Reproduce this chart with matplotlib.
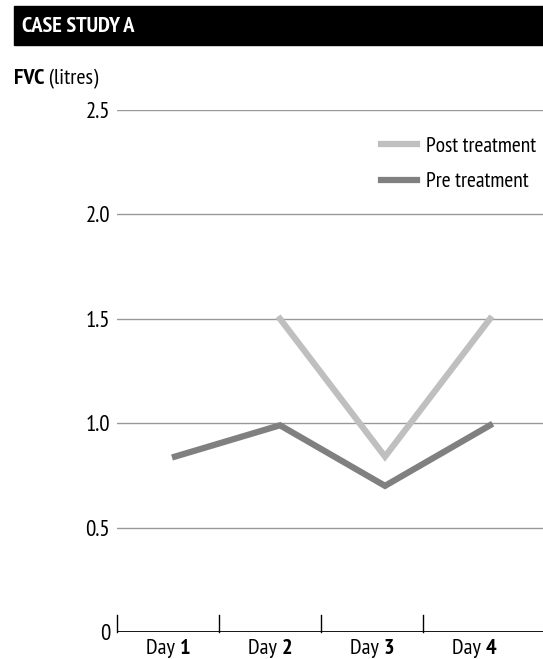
import numpy as np
import matplotlib.pyplot as plt
from matplotlib.patches import Rectangle

plt.rcParams['font.family'] = ['PT Sans Narrow', 'DejaVu Sans']

days = ['1', '2', '3', '4']
pre = [0.84, 0.99, 0.70, 0.99]
post = [np.nan, 1.50, 0.84, 1.50]
yticks = [0, 0.5, 1.0, 1.5, 2.0, 2.5]
ytick_labels = ['0', '0.5', '1.0', '1.5', '2.0', '2.5']

W, H = 543, 659
fig = plt.figure(figsize=(W / 100, H / 100), dpi=100)

# header bar
fig.patches.append(Rectangle((14 / W, 1 - 45 / H), 1 - 14 / W, 39 / H,
                             transform=fig.transFigure, color='black'))
fig.text(22 / W, 1 - 27 / H, 'CASE STUDY A', color='white', fontsize=16,
         fontweight='bold', va='center', ha='left')

ax = fig.add_axes([117 / W, 1 - 632 / H, 1 - 117 / W, (632 - 110) / H])
x = np.arange(len(days))
# data positions: point 0 at px 175, spacing 105 px
px0, step = 175, 105
ax.set_xlim((117 - px0) / step, (543 - px0) / step)
ax.set_ylim(0, 2.5)

for s in ax.spines.values():
    s.set_visible(False)
ax.set_xticks([])
ax.set_yticks(yticks)
ax.set_yticklabels(ytick_labels, fontsize=16.5)
ax.tick_params(axis='y', length=0, pad=5)
for yv in yticks[1:]:
    ax.axhline(yv, color='#999999', lw=1, zorder=1)
ax.axhline(0, color='black', lw=2, zorder=3)

post_line, = ax.plot(x, post, color='#bfbfbf', lw=4.5, solid_joinstyle='miter',
                     label='Post treatment', zorder=4)
pre_line, = ax.plot(x, pre, color='#808080', lw=4.5, solid_joinstyle='miter',
                    label='Pre treatment', zorder=4)

# category slots along the bottom
slot = 102 / (543 - 117)
for i in range(len(days)):
    ax.plot([i * slot, i * slot], [0, 17 / 522], color='black', lw=1,
            transform=ax.transAxes, clip_on=False)

leg = ax.legend(handles=[post_line, pre_line], loc='upper right',
                bbox_to_anchor=(1.005, 0.965), frameon=False, fontsize=15.5,
                handlelength=1.65, handletextpad=0.45, labelspacing=0.75,
                borderaxespad=0)

fig.canvas.draw()
r = fig.canvas.get_renderer()

def two_part(xc, y, a, b, fs, center=True, bold_first=False):
    w1 = fig.text(0, 0, a, fontsize=fs, fontweight='bold' if bold_first else 'normal')
    w2 = fig.text(0, 0, b, fontsize=fs, fontweight='normal' if bold_first else 'bold')
    e1 = w1.get_window_extent(r).width
    e2 = w2.get_window_extent(r).width
    start = xc - (e1 + e2) / 2 if center else xc
    w1.set_position((start / W, 1 - y / H))
    w2.set_position(((start + e1) / W, 1 - y / H))
    for t in (w1, w2):
        t.set_va('center')
        t.set_ha('left')

for i, d in enumerate(days):
    xc = 117 + (i + 0.5) * 102
    two_part(xc, 649, 'Day ', d, 16)

two_part(14, 79, 'FVC', ' (litres)', 16, center=False, bold_first=True)

fig.savefig('out.png', dpi=100)
